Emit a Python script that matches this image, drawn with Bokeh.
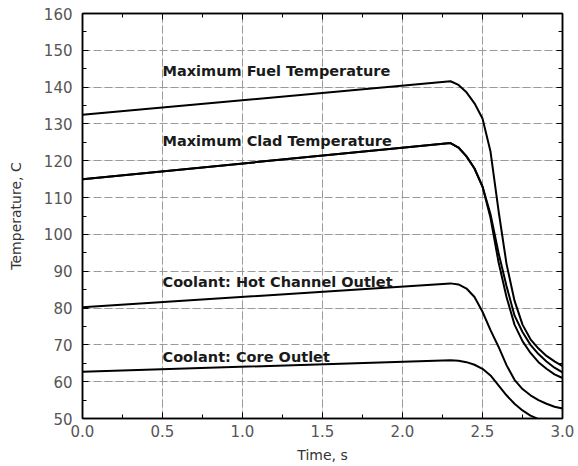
from bokeh.plotting import figure
from bokeh.models import (LinearAxis, Range1d, SingleIntervalTicker, Label, Grid,
                          PrintfTickFormatter, CustomJSTickFormatter)
from bokeh.embed import file_html
from bokeh.resources import INLINE

# ---- data ----
time_s = [0.0, 2.3, 2.35, 2.4, 2.45, 2.5, 2.55, 2.6, 2.65, 2.7, 2.75, 2.8, 2.85, 2.9, 2.95, 3.0]
fuel_temp = [132.5, 141.6, 140.6, 138.6, 135.6, 131.5, 122.5, 106.5, 92.0, 82.0, 75.5, 71.5, 69.0, 67.0, 65.5, 64.2]
clad_temp = [115.0, 124.8, 123.6, 121.2, 117.9, 113.0, 105.5, 95.0, 86.0, 78.0, 73.5, 70.0, 67.5, 65.5, 63.8, 62.5]
clad_temp_b = [115.0, 124.8, 123.6, 121.2, 117.9, 113.0, 104.5, 92.5, 83.0, 75.5, 71.0, 67.8, 65.3, 63.5, 62.0, 61.0]
hot_channel_outlet = [80.2, 86.7, 86.4, 85.3, 83.0, 79.0, 74.0, 69.5, 64.5, 60.5, 58.0, 56.3, 55.0, 54.0, 53.2, 52.7]
core_outlet = [62.7, 65.8, 65.7, 65.3, 64.6, 63.5, 61.7, 59.0, 56.3, 54.0, 52.2, 50.8, 49.8, 49.0, 48.4, 48.0]

x_ticks_step = 0.5
y_ticks_step = 10
curve_labels = ["Maximum Fuel Temperature", "Maximum Clad Temperature",
                "Coolant: Hot Channel Outlet", "Coolant: Core Outlet"]

FONT = "DejaVu Sans"

p = figure(width=578, height=466, output_backend="svg", toolbar_location=None,
           x_range=Range1d(0, 3), y_range=Range1d(50, 160),
           min_border_left=82, min_border_right=16, min_border_top=13, min_border_bottom=48,
           x_axis_location=None, y_axis_location=None)
p.background_fill_color = "white"
p.border_fill_color = "white"
p.outline_line_color = "black"
p.outline_line_width = 1.5


def style_axis(ax, show_labels, step, minor):
    ax.ticker = SingleIntervalTicker(interval=step, num_minor_ticks=minor)
    ax.axis_line_color = "black"
    ax.axis_line_width = 1.5
    ax.major_tick_in = 6
    ax.major_tick_out = 0
    ax.minor_tick_in = 4
    ax.minor_tick_out = 0
    ax.major_tick_line_color = "black"
    ax.minor_tick_line_color = "black"
    ax.major_label_text_font = FONT
    ax.major_label_text_font_size = "15px"
    ax.major_label_text_color = "#555555"
    ax.axis_label_text_font = FONT
    ax.axis_label_text_font_size = "14px"
    ax.axis_label_text_font_style = "normal"
    ax.axis_label_text_color = "#333333"
    if not show_labels:
        ax.formatter = CustomJSTickFormatter(code="return ''")
        ax.major_label_text_font_size = "1px"
        ax.major_label_text_color = None
        ax.major_label_standoff = 0
        ax.axis_label = None


xb = LinearAxis(axis_label="Time, s")
style_axis(xb, True, x_ticks_step, 2)
xb.formatter = PrintfTickFormatter(format="%.1f")
xb.major_label_standoff = 6
xb.axis_label_standoff = 7
p.add_layout(xb, "below")

yl = LinearAxis(axis_label="Temperature, C")
style_axis(yl, True, y_ticks_step, 2)
yl.major_label_standoff = 10
yl.axis_label_standoff = 17
p.add_layout(yl, "left")

xt = LinearAxis()
style_axis(xt, False, x_ticks_step, 2)
p.add_layout(xt, "above")

yr = LinearAxis()
style_axis(yr, False, y_ticks_step, 2)
p.add_layout(yr, "right")

p.add_layout(Grid(dimension=0, ticker=xb.ticker, grid_line_color="#9a9a9a",
                  grid_line_dash="8 3", grid_line_width=1))
p.add_layout(Grid(dimension=1, ticker=yl.ticker, grid_line_color="#9a9a9a",
                  grid_line_dash="8 3", grid_line_width=1))

for series in (fuel_temp, clad_temp, clad_temp_b, hot_channel_outlet, core_outlet):
    p.line(time_s, series, line_color="black", line_width=2)

label_pos = [(0.5, 144.5), (0.5, 125.5), (0.5, 87.0), (0.5, 66.7)]
for txt, (lx, ly) in zip(curve_labels, label_pos):
    p.add_layout(Label(x=lx, y=ly, text=txt, text_font=FONT, text_font_size="14.5px",
                       text_font_style="bold", text_color="#1a1a1a",
                       text_baseline="middle", text_align="left"))

open("out.html", "w").write(file_html(p, INLINE))
